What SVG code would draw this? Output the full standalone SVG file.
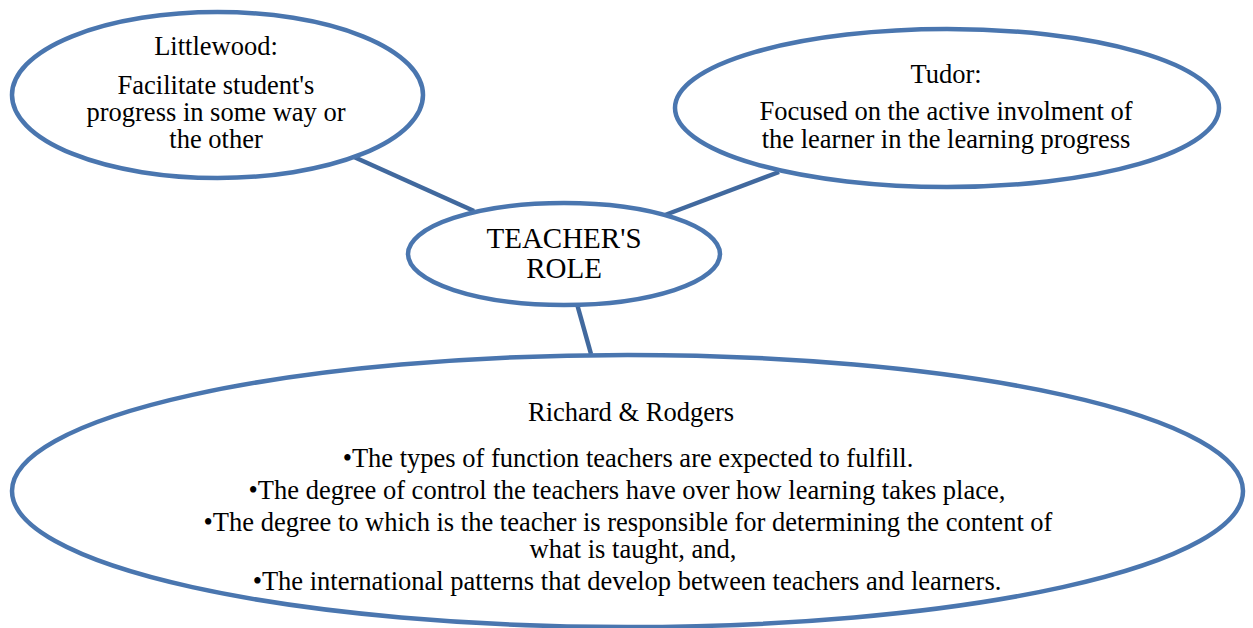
<svg xmlns="http://www.w3.org/2000/svg" width="1253" height="628" viewBox="0 0 1253 628">
<style>
.node{fill:#ffffff;stroke:#4A76AF;stroke-width:4.5}
.conn{stroke:#41699E;stroke-width:4.5;fill:none}
text{font-family:"Liberation Serif","Times New Roman",serif;fill:#000;text-anchor:middle}
.t{font-size:26.5px}
.big{font-size:29px}
</style>
<rect width="1253" height="628" fill="#ffffff"/>
<g id="connectors">
<line class="conn" x1="354" y1="157" x2="474" y2="211"/>
<line class="conn" x1="779" y1="172" x2="665" y2="215"/>
<line class="conn" x1="577" y1="304" x2="591" y2="354"/>
</g>
<g id="littlewood">
<ellipse class="node" cx="217.5" cy="95" rx="205.5" ry="83"/>
<text class="t" x="216" y="55">Littlewood:</text>
<text class="t" x="216" y="94">Facilitate student's</text>
<text class="t" x="216" y="121">progress in some way or</text>
<text class="t" x="216" y="148">the other</text>
</g>
<g id="tudor">
<ellipse class="node" cx="947" cy="108" rx="272" ry="79"/>
<text class="t" x="946" y="83">Tudor:</text>
<text class="t" x="946" y="120">Focused on the active involment of</text>
<text class="t" x="946" y="148">the learner in the learning progress</text>
</g>
<g id="teachers-role">
<ellipse class="node" cx="564" cy="254" rx="156" ry="51"/>
<text class="big" x="564" y="248">TEACHER'S</text>
<text class="big" x="564" y="278">ROLE</text>
</g>
<g id="richard-rodgers">
<ellipse class="node" cx="627.5" cy="491" rx="615.5" ry="136"/>
<text class="t" x="631" y="421">Richard &amp; Rodgers</text>
<text class="t" x="628" y="467">•The types of function teachers are expected to fulfill.</text>
<text class="t" x="627" y="499">•The degree of control the teachers have over how learning takes place,</text>
<text class="t" x="628" y="531">•The degree to which is the teacher is responsible for determining the content of</text>
<text class="t" x="633" y="558">what is taught, and,</text>
<text class="t" x="627" y="590">•The international patterns that develop between teachers and learners.</text>
</g>
</svg>
